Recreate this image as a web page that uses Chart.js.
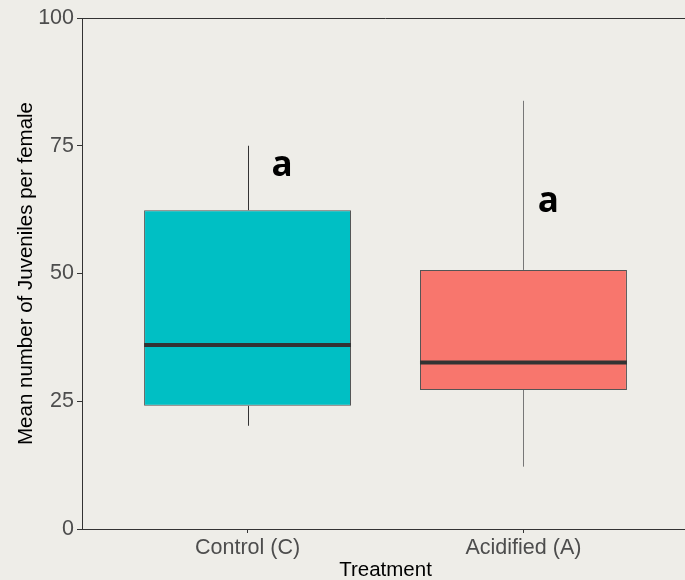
<!DOCTYPE html>
<html>
<head>
<meta charset="utf-8">
<script src="https://cdn.jsdelivr.net/npm/chart.js@4.4.1/dist/chart.umd.min.js"></script>
<style>
  html, body { margin: 0; padding: 0; overflow: hidden; background: #eeede8; }
  #wrap { width: 692px; height: 580px; }
</style>
</head>
<body>
<div id="wrap"><canvas id="c" width="692" height="580"></canvas></div>
<script>
// ---- data ----
const categories = ["Control (C)", "Acidified (A)"];
const whiskerLow = [20.2, 12.2];
const q1 = [24.1, 27.2];
const median = [36.0, 32.6];
const q3 = [62.4, 50.7];
const whiskerHigh = [75.0, 83.8];
const letters = ["a", "a"];
const letterX = [1.125, 2.09];
const letterY = [69.0, 62.0];
const yTicks = [0, 25, 50, 75, 100];
const xTitle = "Treatment";
const yTitle = "Mean number of Juveniles per female";

// ---- styles ----
const fills = ["#00BFC4", "#F8766D"];
const whiskerColors = ["#333333", "#777777"];
const bg = "#eeede8";
const FONT = "'Liberation Sans', Arial, sans-serif";

const boxPlugin = {
  id: 'boxExtras',
  beforeDraw(chart) {
    const ctx = chart.ctx;
    ctx.save();
    ctx.fillStyle = bg;
    ctx.fillRect(0, 0, chart.width, chart.height);
    ctx.restore();
  },
  beforeDatasetsDraw(chart) {
    const ctx = chart.ctx, x = chart.scales.x, y = chart.scales.y;
    ctx.save();
    ctx.lineWidth = 1;
    categories.forEach((c, i) => {
      const px = Math.round(x.getPixelForValue(i + 1)) + 0.5;
      ctx.strokeStyle = whiskerColors[i];
      ctx.beginPath();
      ctx.moveTo(px, y.getPixelForValue(whiskerLow[i]));
      ctx.lineTo(px, y.getPixelForValue(q1[i]));
      ctx.moveTo(px, y.getPixelForValue(q3[i]));
      ctx.lineTo(px, y.getPixelForValue(whiskerHigh[i]));
      ctx.stroke();
    });
    ctx.restore();
  },
  afterDatasetsDraw(chart) {
    const ctx = chart.ctx, x = chart.scales.x, y = chart.scales.y;
    const meta = chart.getDatasetMeta(0);
    ctx.save();
    categories.forEach((c, i) => {
      const el = meta.data[i];
      const half = el.width / 2;
      const py = y.getPixelForValue(median[i]);
      ctx.strokeStyle = "#333333";
      ctx.lineWidth = 4;
      ctx.beginPath();
      ctx.moveTo(el.x - half, py);
      ctx.lineTo(el.x + half, py);
      ctx.stroke();
      // letters
      ctx.fillStyle = "#000";
      ctx.font = "700 35px 'Open Sans', sans-serif";
      ctx.textAlign = "center";
      ctx.textBaseline = "alphabetic";
      ctx.fillText(letters[i], x.getPixelForValue(letterX[i]), y.getPixelForValue(letterY[i]));
    });
    // top border
    const a = chart.chartArea;
    ctx.strokeStyle = "#333333";
    ctx.lineWidth = 1;
    ctx.beginPath();
    ctx.moveTo(a.left, Math.round(a.top) + 0.5);
    ctx.lineTo(a.right, Math.round(a.top) + 0.5);
    ctx.stroke();
    // axis titles
    ctx.fillStyle = "#000";
    ctx.font = "20.5px " + FONT;
    ctx.textAlign = "center";
    ctx.textBaseline = "middle";
    ctx.fillText(xTitle, (a.left + a.right) / 2, 570);
    ctx.translate(26, (a.top + a.bottom) / 2);
    ctx.rotate(-Math.PI / 2);
    ctx.fillText(yTitle, 0, 0);
    ctx.restore();
  }
};

new Chart(document.getElementById('c'), {
  type: 'bar',
  data: {
    datasets: [{
      data: categories.map((c, i) => ({ x: i + 1, y: [q1[i], q3[i]] })),
      backgroundColor: fills,
      borderColor: "#555555",
      borderWidth: 1,
      borderSkipped: false,
      categoryPercentage: 1,
      barPercentage: 0.75
    }]
  },
  plugins: [boxPlugin],
  options: {
    responsive: false,
    animation: false,
    events: [],
    layout: { padding: { top: 18, right: 3, left: 0, bottom: 0 } },
    plugins: { legend: { display: false }, tooltip: { enabled: false } },
    scales: {
      x: {
        type: 'linear',
        min: 0.4,
        max: 2.6,
        offset: false,
        afterBuildTicks(s) { s.ticks = categories.map((c, i) => ({ value: i + 1 })); },
        afterFit(s) { s.height = 51; },
        ticks: {
          callback: (v) => categories[Math.round(v) - 1] || "",
          color: "#4d4d4d",
          font: { family: FONT, size: 21.5 },
          padding: 2,
          maxRotation: 0,
          autoSkip: false
        },
        grid: { display: true, offset: false, drawOnChartArea: false, tickLength: 4, color: "#333333" },
        border: { display: true, color: "#333333", width: 1 }
      },
      y: {
        min: 0,
        max: 100,
        afterBuildTicks(s) { s.ticks = yTicks.map(v => ({ value: v })); },
        afterFit(s) { s.width = 82; },
        ticks: {
          color: "#4d4d4d",
          font: { family: FONT, size: 21.5 },
          padding: 3
        },
        grid: { display: true, drawOnChartArea: false, tickLength: 5, color: "#333333" },
        border: { display: true, color: "#333333", width: 1 }
      }
    }
  }
});
</script>
</body>
</html>
